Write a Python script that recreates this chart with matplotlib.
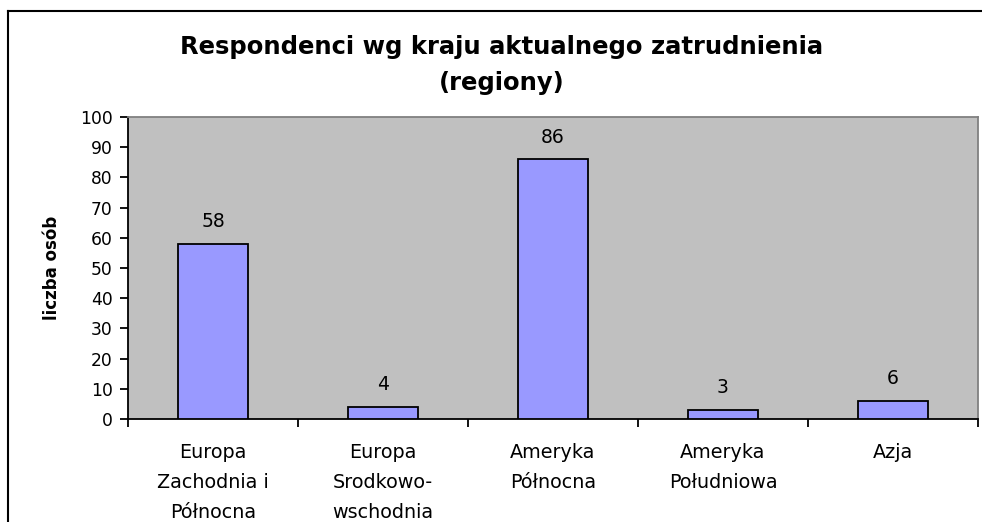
import matplotlib
matplotlib.use("Agg")
import matplotlib.pyplot as plt
from matplotlib.lines import Line2D

categories = ["Europa\nZachodnia i\nPółnocna", "Europa\nSrodkowo-\nwschodnia",
              "Ameryka\nPółnocna", "Ameryka\nPołudniowa", "Azja"]
values = [58, 4, 86, 3, 6]
yticks = list(range(0, 101, 10))

plt.rcParams['font.family'] = ['DejaVu Sans']

W, H = 982, 522
fig = plt.figure(figsize=(W / 100, H / 100), dpi=100)
fig.patch.set_facecolor('white')

left, right, top, bottom = 128, 978, 117, 419
ax = fig.add_axes([left / W, 1 - bottom / H, (right - left) / W, (bottom - top) / H])
ax.set_facecolor('#C0C0C0')

x = list(range(len(categories)))
ax.bar(x, values, width=0.41, color='#9999FF', edgecolor='black', linewidth=1.3, zorder=3)
for xi, v in zip(x, values):
    ax.annotate(str(v), (xi, v), xytext=(0, 9), textcoords='offset points',
                ha='center', va='bottom', fontsize=13.5)

ax.set_xlim(-0.5, len(categories) - 0.5)
ax.set_ylim(0, 100)
ax.set_yticks(yticks)
ax.set_yticklabels([str(t) for t in yticks], fontsize=12.3)
ax.set_xticks([i + 0.5 for i in range(-1, len(categories))])
ax.set_xticklabels([])
ax.set_xticks(x, minor=True)
ax.set_xticklabels(categories, minor=True, fontsize=13.8, linespacing=1.72)
ax.tick_params(axis='x', which='minor', length=0, pad=17.5)
ax.tick_params(axis='x', which='major', length=6, width=1.3, direction='out', color='black')
ax.tick_params(axis='y', length=6, width=1.3, direction='out', color='black', pad=5)

for s in ['top', 'right']:
    ax.spines[s].set_color('#808080')
    ax.spines[s].set_linewidth(1.3)
for s in ['left', 'bottom']:
    ax.spines[s].set_color('black')
    ax.spines[s].set_linewidth(1.3)

ax.set_ylabel('liczba osób', fontsize=12, fontweight='bold', labelpad=13.5)

fig.text(502 / W, 1 - 65 / H, 'Respondenci wg kraju aktualnego zatrudnienia\n(regiony)',
         ha='center', va='center', fontsize=17.5, fontweight='bold', linespacing=1.6)

# chart border (left and top visible)
fig.add_artist(Line2D([8 / W, 8 / W], [0, 1 - 11 / H], color='black', linewidth=1.5,
                      transform=fig.transFigure))
fig.add_artist(Line2D([8 / W, 1], [1 - 11 / H, 1 - 11 / H], color='black', linewidth=1.5,
                      transform=fig.transFigure))

fig.savefig('out.png', dpi=100)
